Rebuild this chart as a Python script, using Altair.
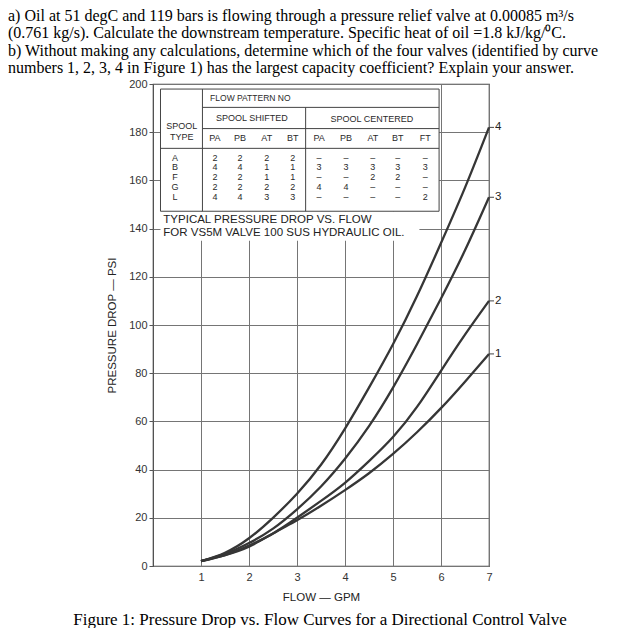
import altair as alt
import pandas as pd

# ---------------- data ----------------
flow = [1, 1.5, 2, 2.5, 3, 3.5, 4, 4.5, 5, 5.5, 6, 6.5, 7]
curve1 = [2, 4.5, 8, 13.5, 19, 25, 31.5, 38.5, 46.5, 55.5, 65.5, 76.5, 88]
curve2 = [2, 4.5, 8.5, 13.5, 20, 27, 34.5, 43.5, 53.5, 66, 81, 96, 110]
curve3 = [2, 5, 9.5, 15.5, 23.5, 33, 44.5, 58, 74, 92, 111, 131, 153]
curve4 = [2, 5.5, 11.5, 20, 30, 42, 57, 74, 92, 112, 134, 157, 182]
curve_names = ["1", "2", "3", "4"]

x_ticks = [1, 2, 3, 4, 5, 6, 7]
y_ticks = [0, 20, 40, 60, 80, 100, 120, 140, 160, 180, 200]

question_lines = [
    "a) Oil at 51 degC and 119 bars is flowing through a pressure relief valve at 0.00085 m³/s",
    "(0.761 kg/s). Calculate the downstream temperature. Specific heat of oil =1.8 kJ/kg/⁰C.",
    "b) Without making any calculations, determine which of the four valves (identified by curve",
    "numbers 1, 2, 3, 4 in Figure 1) has the largest capacity coefficient? Explain your answer.",
]
caption = "Figure 1: Pressure Drop vs. Flow Curves for a Directional Control Valve"
x_title = "FLOW — GPM"
y_title = "PRESSURE DROP — PSI"

spool_types = ["A", "B", "F", "G", "L"]
col_heads = ["PA", "PB", "AT", "BT", "PA", "PB", "AT", "BT", "FT"]
table_values = [
    ["2", "2", "2", "2", "–", "–", "–", "–", "–"],
    ["4", "4", "1", "1", "3", "3", "3", "3", "3"],
    ["2", "2", "1", "1", "–", "–", "2", "2", "–"],
    ["2", "2", "2", "2", "4", "4", "–", "–", "–"],
    ["4", "4", "3", "3", "–", "–", "–", "–", "2"],
]
note_lines = ["TYPICAL PRESSURE DROP VS. FLOW", "FOR VS5M VALVE 100 SUS HYDRAULIC OIL."]

# ---------------- layout (table placed in axis units) ----------------
W, H = 336, 482
T_L, T_R, T_TOP, T_BOT = 0.156, 5.96, 197.9, 147.2
C_DIV, S_DIV = 1.03, 3.18
R1, R2, R3 = 190.3, 181.5, 173.3
col_x = [1.29, 1.81, 2.37, 2.91, 3.46, 4.02, 4.58, 5.10, 5.67]
row_y = [169.5, 165.4, 161.3, 157.2, 153.1]

xs = alt.Scale(domain=[0, 7], nice=False, zero=False)
ys = alt.Scale(domain=[0, 200], nice=False, zero=False)
INK = "#363636"

x_axis = alt.Axis(values=x_ticks, grid=True, gridColor="#757575", gridWidth=1,
                  domain=False, ticks=False, labelFont="Liberation Sans", labelFontSize=11,
                  labelColor="#333", labelPadding=5, labelOverlap=False, labelFlush=False,
                  title=x_title, titleFont="Liberation Sans", titleFontSize=11.5,
                  titleFontWeight="normal", titleColor="#222", titlePadding=9)
y_axis = alt.Axis(values=y_ticks, grid=True, gridColor="#757575", gridWidth=1,
                  domain=False, ticks=True, tickSize=4, tickColor="#555",
                  labelFont="Liberation Sans", labelFontSize=11, labelColor="#333",
                  labelPadding=2, labelOverlap=False, labelFlush=False,
                  title=y_title, titleFont="Liberation Sans", titleFontSize=11.5,
                  titleFontWeight="normal", titleColor="#222", titleX=-41, titleY=H / 2,
                  titleBaseline="middle")


def X(field):
    return alt.X(field, type="quantitative", scale=xs, axis=x_axis)


def Y(field):
    return alt.Y(field, type="quantitative", scale=ys, axis=y_axis)


# curves
rows = []
for name, vals in zip(curve_names, [curve1, curve2, curve3, curve4]):
    for f, p in zip(flow, vals):
        rows.append({"flow": f, "psi": p, "curve": name})
cdf = pd.DataFrame(rows)
ends = cdf[cdf["flow"] == flow[-1]]

curves = alt.Chart(cdf).mark_line(color=INK, strokeWidth=2.3, interpolate="natural").encode(
    x=X("flow"), y=Y("psi"), detail="curve:N",
)

# white backing of table and note
rect_df = pd.DataFrame([
    {"x": T_L, "x2": T_R, "y": T_BOT, "y2": 199.6},
    {"x": T_L, "x2": 5.55, "y": 135.0, "y2": T_BOT},
])
backing = alt.Chart(rect_df).mark_rect(fill="white").encode(
    x=X("x"), x2="x2:Q", y=Y("y"), y2="y2:Q",
)

seg_df = pd.DataFrame([
    {"x": T_L, "x2": T_R, "y": T_TOP, "y2": T_TOP},
    {"x": T_L, "x2": T_R, "y": T_BOT, "y2": T_BOT},
    {"x": T_L, "x2": T_L, "y": T_BOT, "y2": T_TOP},
    {"x": T_R, "x2": T_R, "y": T_BOT, "y2": T_TOP},
    {"x": C_DIV, "x2": C_DIV, "y": T_BOT, "y2": T_TOP},
    {"x": C_DIV, "x2": T_R, "y": R1, "y2": R1},
    {"x": C_DIV, "x2": T_R, "y": R2, "y2": R2},
    {"x": T_L, "x2": T_R, "y": R3, "y2": R3},
    {"x": S_DIV, "x2": S_DIV, "y": T_BOT, "y2": R1},
])
table_rules = alt.Chart(seg_df).mark_rule(color="#444", strokeWidth=1).encode(
    x=X("x"), x2="x2:Q", y=Y("y"), y2="y2:Q",
)

cells = []
cells.append({"x": 0.60, "y": 182.5, "t": "SPOOL"})
cells.append({"x": 0.60, "y": 178.0, "t": "TYPE"})
cells.append({"x": 2.06, "y": 186.0, "t": "SPOOL SHIFTED"})
cells.append({"x": 4.56, "y": 185.6, "t": "SPOOL CENTERED"})
for cx, h in zip(col_x, col_heads):
    cells.append({"x": cx, "y": 177.4, "t": h})
for ry, s, vals in zip(row_y, spool_types, table_values):
    cells.append({"x": 0.46, "y": ry, "t": s})
    for cx, v in zip(col_x, vals):
        cells.append({"x": cx, "y": ry, "t": v})
cell_df = pd.DataFrame(cells)
table_text = alt.Chart(cell_df).mark_text(font="Liberation Sans", fontSize=9, color="#2a2a2a",
                                          align="center", baseline="middle").encode(
    x=X("x"), y=Y("y"), text="t:N")

fp_df = pd.DataFrame([{"x": 1.19, "y": 194.2, "t": "FLOW PATTERN NO"}])
fp_text = alt.Chart(fp_df).mark_text(font="Liberation Sans", fontSize=8.5, color="#2a2a2a",
                                     align="left", baseline="middle").encode(
    x=X("x"), y=Y("y"), text="t:N")

note_df = pd.DataFrame([{"x": 0.215, "y": 143.4, "t": note_lines[0]},
                        {"x": 0.215, "y": 138.3, "t": note_lines[1]}])
note_text = alt.Chart(note_df).mark_text(font="Liberation Sans", fontSize=11.5, color="#222",
                                         align="left", baseline="middle").encode(
    x=X("x"), y=Y("y"), text="t:N")

# curve number labels at right
end_ticks = alt.Chart(ends).mark_rule(color="#444", strokeWidth=1).encode(
    x=X("flow"), x2=alt.value(W + 5), y=Y("psi"))
end_text = alt.Chart(ends).mark_text(font="Liberation Sans", fontSize=11.5, color="#222",
                                     align="left", baseline="middle").encode(
    x=alt.value(W + 6), y=Y("psi"), text="curve:N")

# question text and caption
qlayers = []
for i, line in enumerate(question_lines):
    qlayers.append(alt.Chart(pd.DataFrame({"t": [line]})).mark_text(
        font="Liberation Serif", fontSize=16, color="black", align="left", baseline="middle"
    ).encode(text="t:N", x=alt.value(-145), y=alt.value(-68 + 17.3 * i)))
cap = alt.Chart(pd.DataFrame({"t": [caption]})).mark_text(
    font="Liberation Serif", fontSize=17, color="black", align="center", baseline="middle"
).encode(text="t:N", x=alt.value(167), y=alt.value(H + 54))

chart = alt.layer(curves, backing, table_rules, table_text, fp_text, note_text,
                  end_ticks, end_text, cap, *qlayers).properties(
    width=W, height=H, padding=0, background="white"
).configure_view(stroke="#404040", strokeWidth=1.2)

chart.save("out.html", embed_options={"renderer": "svg", "actions": False})
